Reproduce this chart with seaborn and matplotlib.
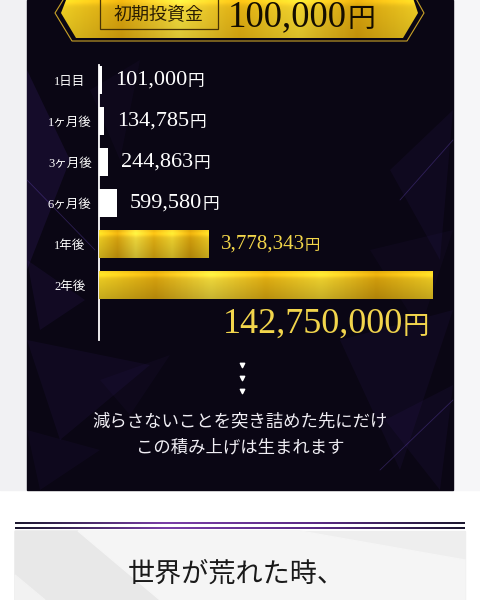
import numpy as np
import pandas as pd
import matplotlib
matplotlib.use("Agg")
import matplotlib.pyplot as plt
import seaborn as sns
from matplotlib.patches import Polygon, Rectangle
from matplotlib.colors import LinearSegmentedColormap

# data
periods = ["1日目", "1ヶ月後", "3ヶ月後", "6ヶ月後", "1年後", "2年後"]
amounts = [101000, 134785, 244863, 599580, 3778343, 142750000]
bar_len = [3, 5, 9, 18, 109, 333]   # drawn bar lengths (not to scale in the original)
is_gold = [False, False, False, False, True, True]
start_amount = 100000

sns.set_theme(style="white")
serif_jp = ['Liberation Serif', 'Noto Sans CJK JP', 'DejaVu Sans']
jp = ['Noto Sans CJK JP', 'DejaVu Sans']
plt.rcParams['font.family'] = serif_jp

fig = plt.figure(figsize=(4.8, 6), dpi=100)
fig.patch.set_facecolor('white')

# background layer in pixel coords
bg = fig.add_axes([0, 0, 1, 1])
bg.set_xlim(0, 480)
bg.set_ylim(600, 0)
bg.axis('off')

# page sides
bg.add_patch(Rectangle((0, 0), 27, 490, color='#f1f1f3', zorder=0))
bg.add_patch(Rectangle((453, 0), 27, 490, color='#f6f6f8', zorder=0))

# dark panel
bg.add_patch(Rectangle((27, 0), 426, 490, color='#0a0614', zorder=1))
purple = '#5a33b0'
shards = [
    ([(27, 70), (70, 160), (27, 270)], 0.14),
    ([(90, 90), (140, 60), (120, 160)], 0.05),
    ([(27, 260), (85, 300), (40, 330)], 0.10),
    ([(390, 170), (453, 110), (440, 260)], 0.07),
    ([(370, 250), (453, 230), (420, 330)], 0.05),
    ([(27, 340), (150, 365), (60, 440)], 0.08),
    ([(100, 380), (170, 355), (130, 415)], 0.05),
    ([(340, 340), (453, 310), (400, 470)], 0.07),
    ([(385, 420), (453, 385), (440, 490)], 0.07),
    ([(27, 430), (100, 450), (40, 490)], 0.06),
]
for pts, a in shards:
    bg.add_patch(Polygon(pts, color=purple, alpha=a, lw=0, zorder=1.5))
for (x0, y0, x1, y1) in [(27, 180, 95, 250), (400, 200, 453, 140), (380, 470, 453, 400)]:
    bg.plot([x0, x1], [y0, y1], color='#7a55e0', lw=0.6, alpha=0.3, zorder=1.6)

# gold gradients
gold_cmap = LinearSegmentedColormap.from_list(
    'gold', ['#f6d424', '#dfa80e', '#fae23e', '#e8b412', '#f8da30', '#dba40c', '#f4d024'])
def gold_image(nx=200, ny=40, shade=0.2):
    row = gold_cmap(np.linspace(0, 1, nx))[:, :3]
    v = np.linspace(0, 1, ny)[:, None, None]
    light = 1.0 - shade * v + 0.12 * np.exp(-((v - 0.12) / 0.1) ** 2)
    return np.clip(row[None, :, :] * light, 0, 1)

# top banner
banner = Polygon([(68, -5), (412, -5), (418, 13), (403, 38), (76, 38), (61, 13)],
                 closed=True, fc='none', ec='none', zorder=2)
bg.add_patch(banner)
im = bg.imshow(gold_image(300, 40, 0.12), extent=[61, 418, 38, -5], aspect='auto',
               interpolation='bilinear', zorder=2)
im.set_clip_path(banner)
bg.add_patch(Polygon([(66, -5), (60, 5), (55, 13), (72, 41), (407, 41), (424, 13), (414, -5)],
                     closed=True, fc='none', ec='#c9a227', lw=0.8, zorder=2))
bg.add_patch(Rectangle((100, -2), 118, 31, fc='none', ec='#4a3405', lw=0.9, zorder=3))
bg.text(159, 15, "初期投資金", ha='center', va='center', fontsize=13,
        color='#2a1d02', family=jp, zorder=4)
t = bg.text(228, 17, f"{start_amount:,}", ha='left', va='center', fontsize=26.5,
            color='#140d00', zorder=4)
bg.annotate("円", xy=(1, 0.45), xycoords=t, va='center', ha='left', fontsize=20,
            color='#140d00', family=jp, zorder=4)

# bar chart
ax = fig.add_axes([99 / 480, 1 - 340 / 600, (440 - 99) / 480, (340 - 65) / 600])
ax.patch.set_alpha(0)
df = pd.DataFrame({'period': periods, 'length': bar_len})
colors = ['#d8a810' if g else 'white' for g in is_gold]
sns.barplot(data=df, x='length', y='period', hue='period', palette=colors,
            orient='h', width=0.68, legend=False, saturation=1, ax=ax)

for p in list(ax.patches):
    i = int(round(p.get_y() + p.get_height() / 2))
    p.set_linewidth(0)
    if is_gold[i]:
        x0, y0, w, h = p.get_x(), p.get_y(), p.get_width(), p.get_height()
        g = ax.imshow(gold_image(), extent=[x0, x0 + w, y0 + h, y0], aspect='auto',
                      interpolation='bilinear', zorder=3)
        g.set_clip_path(p)
ax.set_xlim(0, 341)
ax.set_ylim(6.34, -0.37)

for s in ['top', 'right', 'bottom']:
    ax.spines[s].set_visible(False)
ax.spines['left'].set_color('white')
ax.spines['left'].set_linewidth(1.3)
ax.set_xticks([])
ax.set_xlabel('')
ax.set_ylabel('')
ax.tick_params(axis='y', length=0, pad=21, labelsize=9, labelcolor='white')
for lbl in ax.get_yticklabels():
    lbl.set_ha('center')
    lbl.set_fontfamily(serif_jp)

for i, (amt, ln) in enumerate(zip(amounts, bar_len)):
    if i < 4:
        n = ax.text(ln + 13, i, f"{amt:,}", va='center', ha='left', fontsize=16, color='white')
        ax.annotate("円", xy=(1, 0.42), xycoords=n, va='center', ha='left', fontsize=12,
                    color='white', family=jp)
    elif i == 4:
        n = ax.text(ln + 13, i, f"{amt:,}", va='center', ha='left', fontsize=15, color='#f3d64a')
        ax.annotate("円", xy=(1, 0.42), xycoords=n, va='center', ha='left', fontsize=11,
                    color='#f3d64a', family=jp)
    else:
        n = ax.text(ln - 29, i + 0.95, f"{amt:,}", va='center', ha='right', fontsize=26,
                    color='#f2d54c')
        ax.annotate("円", xy=(1, 0.42), xycoords=n, va='center', ha='left', fontsize=19,
                    color='#f2d54c', family=jp)

# dots and message
bg.scatter([242, 242, 242], [365, 378, 391], marker='v', s=10, color='white', zorder=5)
bg.text(240, 422, "減らさないことを突き詰めた先にだけ", ha='center', va='center',
        fontsize=12.5, color='#f0eef4', family=jp, zorder=5)
bg.text(240, 447, "この積み上げは生まれます", ha='center', va='center',
        fontsize=12.5, color='#f0eef4', family=jp, zorder=5)

# divider lines
line_cmap = LinearSegmentedColormap.from_list('ln', ['#1c1830', '#7a3fa8', '#5a2a86', '#1c1830'])
for yy, hh in [(522, 2), (527, 2.5)]:
    r = Rectangle((15, yy), 450, hh, fc='none', ec='none')
    bg.add_patch(r)
    lim = bg.imshow(line_cmap(np.linspace(0, 1, 200))[None, :, :3], extent=[15, 465, yy + hh, yy],
                    aspect='auto', zorder=3)
    lim.set_clip_path(r)

# lower section
bg.add_patch(Rectangle((15, 531), 450, 69, color='#eeeeee', zorder=1))
bg.add_patch(Polygon([(15, 531), (78, 531), (160, 600), (15, 600)], color='#e8e8e8', zorder=1.2))
bg.add_patch(Polygon([(78, 531), (300, 531), (465, 560), (465, 600), (160, 600)],
                     color='#f5f5f5', zorder=1.2))
bg.add_patch(Polygon([(15, 575), (45, 600), (15, 600)], color='#f2f2f2', zorder=1.3))
bg.text(236, 574, "世界が荒れた時、", ha='center', va='center', fontsize=19.5,
        color='#1a1a1a', family=jp, zorder=4)

fig.savefig("out.png", dpi=100)
